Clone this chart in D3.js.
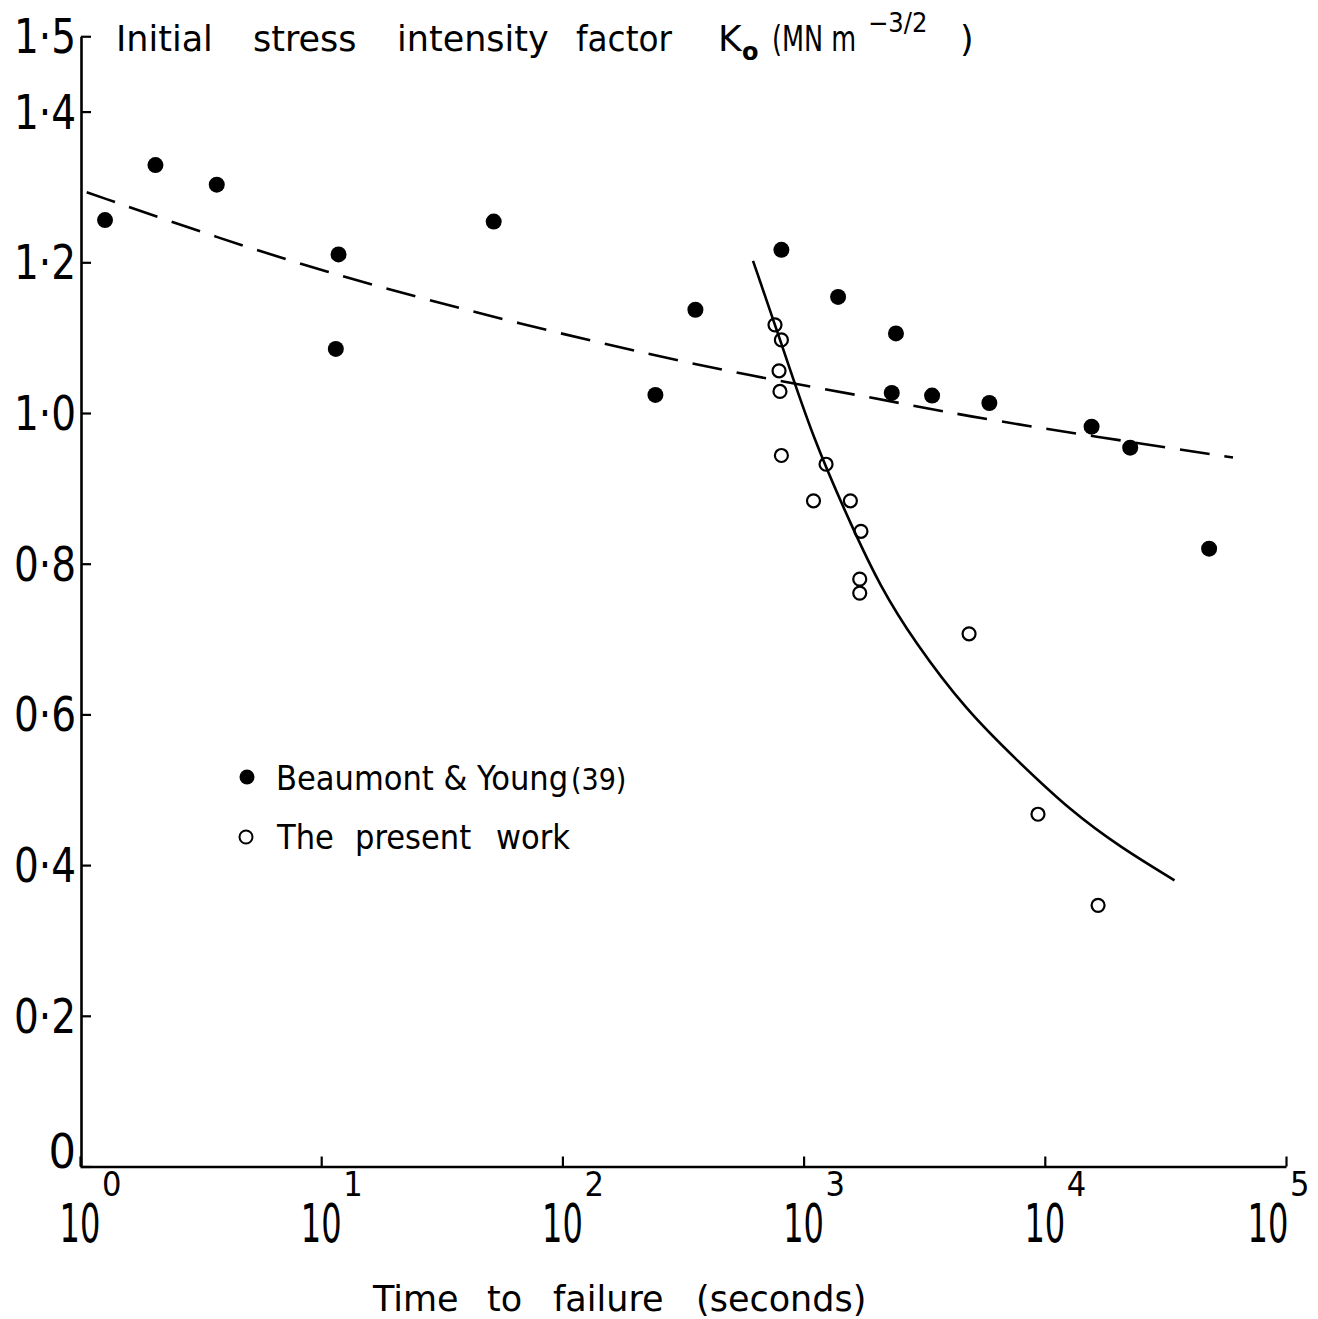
<!DOCTYPE html>
<html><head><meta charset="utf-8">
<script src="https://cdn.jsdelivr.net/npm/d3@7"></script>
<style>
html,body{margin:0;padding:0;background:#fff;}
svg{display:block;}
text{font-family:"DejaVu Sans",sans-serif;fill:#000;}
text.cond{font-family:"DejaVu Sans Condensed","DejaVu Sans",sans-serif;font-stretch:condensed;}
</style></head>
<body>
<svg id="chart" width="1318" height="1319"></svg>
<script>
// ---- data ----
const xTickValues = [1, 10, 100, 1000, 10000, 100000];
const xTickExponents = ["0", "1", "2", "3", "4", "5"];
const yTickValues = [0, 0.2, 0.4, 0.6, 0.8, 1.0, 1.2, 1.4, 1.5];
const yTickLabels = ["0", "0·2", "0·4", "0·6", "0·8", "1·0", "1·2", "1·4", "1·5"];

// Beaumont & Young (39) — filled circles
const beaumontTime = [1.27, 2.055, 3.69, 11.8, 11.5, 51.9, 243, 356, 809, 1390, 2415, 2320, 3410, 5890, 15630, 22600, 48000];
const beaumontK    = [1.256, 1.329, 1.303, 1.2105, 1.085, 1.254, 1.024, 1.137, 1.2165, 1.154, 1.1056, 1.0266, 1.0231, 1.0133, 0.9818, 0.954, 0.820];

// The present work — open circles
const presentTime = [761, 809, 791, 798, 809, 1239, 1099, 1563, 1729, 1709, 1709, 4853, 9370, 16630];
const presentK    = [1.117, 1.097, 1.056, 1.0286, 0.9436, 0.932, 0.8835, 0.8835, 0.843, 0.7795, 0.761, 0.707, 0.4675, 0.3466];

// dashed trend line (Beaumont & Young)
const dashedTime = [1.066, 3.323, 10.27, 39.1, 173.3, 599.6, 1885, 4669, 16620, 60300];
const dashedK    = [1.2931, 1.2377, 1.1877, 1.1368, 1.0863, 1.0491, 1.0212, 0.9960, 0.9681, 0.9409];

// solid fitted curve (present work)
const solidTime = [617, 798, 1094, 1603, 2074, 2870, 4714, 7740, 12700, 20700, 34500];
const solidK    = [1.2019, 1.0983, 0.9655, 0.8459, 0.7703, 0.6972, 0.6056, 0.5378, 0.4728, 0.4230, 0.3798];

// ---- layout ----
const svg = d3.select("#chart");
const x = d3.scaleLog().domain([1, 100000]).range([80, 1286]);
const y = d3.scaleLinear().domain([0, 1.5]).range([1166.5, 1166.5 - 1.5 * 753.5]);

// axes
const yAxis = d3.axisLeft(y).tickValues(yTickValues).tickSize(-10).tickSizeOuter(0).tickFormat("");
const gy = svg.append("g").attr("transform", "translate(81,0)").call(yAxis);
const xAxis = d3.axisBottom(x).tickValues(xTickValues).tickSize(-10).tickSizeOuter(0).tickFormat("");
const gx = svg.append("g").attr("transform", "translate(0,1166.5)").call(xAxis);
[gx, gy].forEach(g => {
  g.select(".domain").attr("stroke", "#000").attr("stroke-width", 2.6);
  g.selectAll(".tick line").attr("stroke", "#000").attr("stroke-width", 2.2);
});

// y tick labels
svg.append("g").selectAll("text").data(yTickValues).join("text")
  .attr("class", "cond")
  .attr("x", 76)
  .attr("y", d => d === 0 ? y(d) + 1 : y(d) + 17)
  .attr("text-anchor", "end")
  .attr("font-size", 48)
  .attr("textLength", d => d === 0 ? null : 62)
  .attr("lengthAdjust", "spacingAndGlyphs")
  .text((d, i) => yTickLabels[i]);

// x tick labels: 10 with superscript exponent
const xl = svg.append("g");
xTickValues.forEach((v, i) => {
  let cx = x(v);
  if (i === xTickValues.length - 1) cx = cx - 18;
  xl.append("text").attr("class", "cond")
    .attr("transform", `translate(${cx},1242) scale(0.66,1)`)
    .attr("text-anchor", "middle").attr("font-size", 54).text("10");
  xl.append("text").attr("class", "cond").attr("x", cx + 22).attr("y", 1196)
    .attr("font-size", 34).text(xTickExponents[i]);
});

// text helper (word positions follow the hand lettering)
function word(t, x0, y0, size, cls, extra) {
  const e = svg.append("text").attr("x", x0).attr("y", y0).attr("font-size", size).text(t);
  if (cls) e.attr("class", cls);
  if (extra) extra(e);
  return e;
}
// x axis title
word("Time", 373, 1311, 35);
word("to", 487, 1311, 35);
word("failure", 553, 1311, 35);
word("(seconds)", 696, 1311, 35);

// top title
word("Initial", 116, 51, 35);
word("stress", 253, 51, 35);
word("intensity", 397, 51, 35);
word("factor", 576, 51, 35, null, e => e.attr("textLength", 96).attr("lengthAdjust", "spacingAndGlyphs"));
word("K", 718, 51, 36);
word("o", 742, 60, 24, null, e => e.attr("font-weight", "bold"));
word("(MN m", 772, 51, 35, "cond", e => e.attr("textLength", 84).attr("lengthAdjust", "spacingAndGlyphs"));
word("−3/2", 868, 32, 27, "cond");
word(")", 960, 51, 35);

// lines
const line = d3.line().x(d => x(d[0])).y(d => y(d[1])).curve(d3.curveBasis);
svg.append("path").datum(dashedTime.map((t, i) => [t, dashedK[i]]))
  .attr("d", line).attr("fill", "none").attr("stroke", "#000")
  .attr("stroke-width", 2.6).attr("stroke-dasharray", "30,15");
svg.append("path").datum(solidTime.map((t, i) => [t, solidK[i]]))
  .attr("d", line).attr("fill", "none").attr("stroke", "#000").attr("stroke-width", 2.6);

// points
svg.append("g").selectAll("circle").data(beaumontTime).join("circle")
  .attr("cx", d => x(d)).attr("cy", (d, i) => y(beaumontK[i])).attr("r", 8).attr("fill", "#000");
svg.append("g").selectAll("circle").data(presentTime).join("circle")
  .attr("cx", d => x(d)).attr("cy", (d, i) => y(presentK[i])).attr("r", 6.5)
  .attr("fill", "none").attr("stroke", "#000").attr("stroke-width", 2.2);

// legend
svg.append("circle").attr("cx", 247).attr("cy", 777).attr("r", 7.5).attr("fill", "#000");
word("Beaumont & Young", 276, 790, 34, "cond");
word("(39)", 571, 790, 30, "cond");
svg.append("circle").attr("cx", 246).attr("cy", 837).attr("r", 6.5).attr("fill", "none").attr("stroke", "#000").attr("stroke-width", 2);
word("The", 277, 849, 34, "cond");
word("present", 355, 849, 34, "cond");
word("work", 496, 849, 34, "cond");
</script>
</body></html>
